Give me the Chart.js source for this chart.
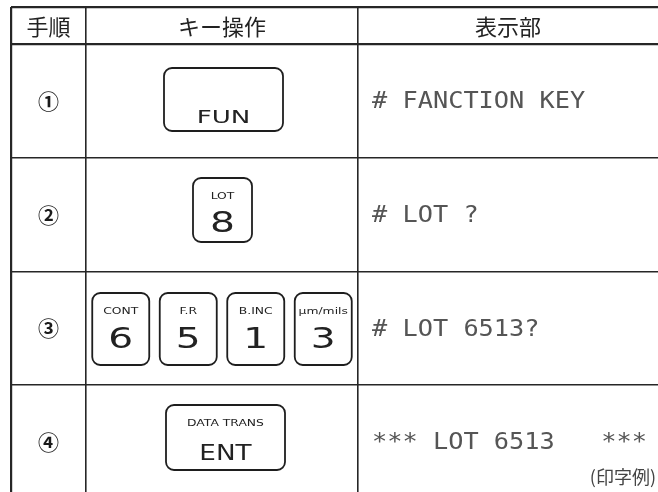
<!DOCTYPE html>
<html>
<head>
<meta charset="utf-8">
<script src="https://cdn.jsdelivr.net/npm/chart.js@4"></script>
<style>
  html, body { margin: 0; background: #fff; }
  #wrap { width: 658px; height: 492px; }
</style>
</head>
<body>
<div id="wrap"><canvas id="table" width="658" height="492"></canvas></div>
<script>
const headers = ['手順', 'キー操作', '表示部'];
const steps = ['①', '②', '③', '④'];
const keySubLabels = [[''], ['LOT'], ['CONT', 'F.R', 'B.INC', 'μm/mils'], ['DATA TRANS']];
const keyMainLabels = [['FUN'], ['8'], ['6', '5', '1', '3'], ['ENT']];
const displayLeft = ['# FANCTION KEY', '# LOT ?', '# LOT 6513?', '*** LOT 6513'];
const displayRight = ['', '', '', '***'];
const printNote = '(印字例)';

// table layout, in page px
const colEdges = [11, 86, 358, 658];
const rowEdges = [7, 44, 158, 272, 385, 499];
const keySize = [[119, 63], [59, 64], [57, 72], [119, 65]];
const keyShift = [[1.5, -1.5], [0.5, -5], [0, 0.5], [3.5, -4.5]];
const keyGap = 10.5;
const subBase = 21;                    // sub label baseline below key top
const mainBase = [-8, -10, -17, -10];  // main label baseline above key bottom
const mainFont = [18, 28, 29, 21];
const mainStretch = [1.45, 1.4, 1.35, 1.25];

function stretchText(ctx, text, x, y, sx) {
  ctx.save();
  ctx.translate(x, y);
  ctx.scale(sx, 1);
  ctx.fillText(text, 0, 0);
  ctx.restore();
}

const tablePlugin = {
  id: 'tableCells',
  afterDraw(chart) {
    const { ctx, scales: { x, y } } = chart;
    const colMid = i => x.getPixelForValue((colEdges[i] + colEdges[i + 1]) / 2);
    const rowMid = i => y.getPixelForValue((rowEdges[i] + rowEdges[i + 1]) / 2);
    ctx.save();
    ctx.fillStyle = '#222';
    ctx.textAlign = 'center';
    ctx.textBaseline = 'middle';

    // header
    ctx.font = '22px "Noto Sans CJK JP"';
    headers.forEach((h, c) => ctx.fillText(h, colMid(c), rowMid(0) + 1));

    steps.forEach((s, r) => {
      const cy = rowMid(r + 1);
      // step number
      ctx.fillStyle = '#1a1a1a';
      ctx.textAlign = 'center';
      ctx.textBaseline = 'middle';
      ctx.font = 'bold 21px "Noto Sans CJK JP"';
      ctx.fillText(s, colMid(0), cy);

      // keys
      const [kw, kh] = keySize[r];
      const n = keyMainLabels[r].length;
      const total = n * kw + (n - 1) * keyGap;
      const left = colMid(1) + keyShift[r][0] - total / 2;
      const top = cy + keyShift[r][1] - kh / 2;
      keyMainLabels[r].forEach((m, k) => {
        const kx = left + k * (kw + keyGap);
        ctx.beginPath();
        ctx.roundRect(kx, top, kw, kh, 8);
        ctx.lineWidth = 1.8;
        ctx.strokeStyle = '#1e1e1e';
        ctx.stroke();
        ctx.fillStyle = '#222';
        ctx.textBaseline = 'alphabetic';
        ctx.textAlign = 'center';
        const sub = keySubLabels[r][k];
        if (sub) {
          ctx.font = '9.5px "DejaVu Sans"';
          stretchText(ctx, sub, kx + kw / 2, top + subBase, 1.3);
        }
        ctx.font = mainFont[r] + 'px "DejaVu Sans"';
        stretchText(ctx, m, kx + kw / 2, top + kh + mainBase[r], mainStretch[r]);
      });

      // display text
      ctx.fillStyle = '#555';
      ctx.font = '23px "DejaVu Sans Mono"';
      ctx.textAlign = 'left';
      ctx.textBaseline = 'alphabetic';
      stretchText(ctx, displayLeft[r], x.getPixelForValue(colEdges[2]) + 14, cy + 7, 1.1);
      if (displayRight[r]) {
        ctx.textAlign = 'right';
        stretchText(ctx, displayRight[r], 647, cy + 7, 1.1);
      }
    });

    ctx.fillStyle = '#444';
    ctx.font = '18px "Noto Sans CJK JP"';
    ctx.textAlign = 'right';
    ctx.textBaseline = 'middle';
    ctx.fillText(printNote, 656, 477);
    ctx.restore();
  }
};

new Chart(document.getElementById('table'), {
  type: 'scatter',
  data: { datasets: [{ data: [], pointRadius: 0 }] },
  options: {
    responsive: false,
    animation: false,
    events: [],
    layout: { padding: { left: colEdges[0], top: rowEdges[0], right: 0, bottom: 0 } },
    plugins: { legend: { display: false }, tooltip: { enabled: false } },
    scales: {
      x: {
        type: 'linear',
        min: colEdges[0],
        max: colEdges[3],
        ticks: { display: false },
        border: { display: false },
        grid: { drawTicks: false, color: '#262626', lineWidth: c => c.index === 0 ? 2.2 : 1.6 },
        afterBuildTicks: a => { a.ticks = colEdges.slice(0, 3).map(v => ({ value: v })); }
      },
      y: {
        type: 'linear',
        reverse: true,
        min: rowEdges[0],
        max: 492,
        ticks: { display: false },
        border: { display: false },
        grid: { drawTicks: false, color: '#262626', lineWidth: c => c.index <= 1 ? 2.3 : 1.5 },
        afterBuildTicks: a => { a.ticks = rowEdges.slice(0, 5).map(v => ({ value: v })); }
      }
    }
  },
  plugins: [tablePlugin]
});
</script>
</body>
</html>
